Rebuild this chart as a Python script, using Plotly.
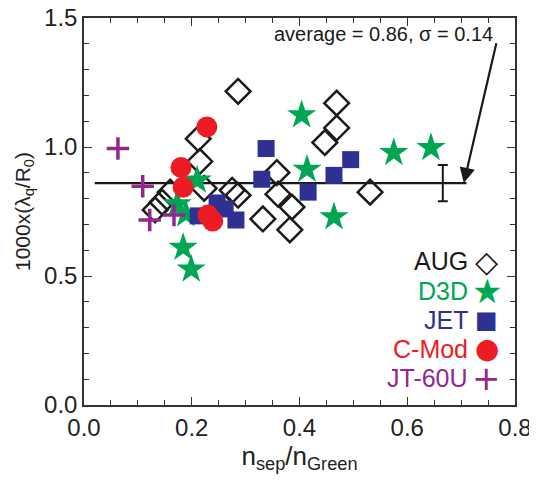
import plotly.graph_objects as go

# ---- data ----
aug_x = [0.286, 0.469, 0.469, 0.447, 0.212, 0.215, 0.223, 0.275, 0.286, 0.358,
         0.360, 0.386, 0.332, 0.382, 0.531, 0.160, 0.145, 0.132]
aug_y = [1.216, 1.170, 1.074, 1.017, 1.032, 0.944, 0.840, 0.832, 0.813, 0.901,
         0.817, 0.767, 0.721, 0.679, 0.825, 0.825, 0.786, 0.756]

d3d_x = [0.404, 0.414, 0.575, 0.644, 0.464, 0.210, 0.173, 0.189, 0.184, 0.199]
d3d_y = [1.124, 0.913, 0.978, 0.997, 0.729, 0.871, 0.779, 0.740, 0.610, 0.526]

jet_x = [0.212, 0.247, 0.262, 0.282, 0.330, 0.338, 0.416, 0.464, 0.495]
jet_y = [0.733, 0.783, 0.760, 0.717, 0.875, 0.994, 0.825, 0.890, 0.951]

cmod_x = [0.228, 0.180, 0.184, 0.230, 0.239]
cmod_y = [1.078, 0.921, 0.844, 0.736, 0.713]

jt_x = [0.063, 0.109, 0.122, 0.167]
jt_y = [0.994, 0.848, 0.717, 0.736]

average = 0.86
sigma = 0.14
avg_line_x = [0.02, 0.71]
errbar_x = 0.666

x_ticks = [0.0, 0.2, 0.4, 0.6, 0.8]
y_ticks = [0.0, 0.5, 1.0, 1.5]

# ---- styles ----
FONT = "Liberation Sans, Arial, Helvetica, sans-serif"
C_AUG = "#1a1a1a"
C_D3D = "#00A651"
C_JET = "#2E3192"
C_CMOD = "#ED1C24"
C_JT = "#92278F"

fig = go.Figure()

# average line
fig.add_trace(go.Scatter(x=avg_line_x, y=[average, average], mode="lines",
                         line=dict(color="#1a1a1a", width=2.2), showlegend=False,
                         hoverinfo="skip"))
# error bar (half sigma)
fig.add_trace(go.Scatter(x=[errbar_x], y=[average], mode="markers",
                         marker=dict(size=1, color="rgba(0,0,0,0)"),
                         error_y=dict(type="constant", value=sigma / 2, color="#1a1a1a",
                                      thickness=2, width=5),
                         showlegend=False, hoverinfo="skip"))

fig.add_trace(go.Scatter(x=aug_x, y=aug_y, mode="markers", name="AUG",
                         marker=dict(symbol="diamond-open", size=19,
                                     color=C_AUG, line=dict(color=C_AUG, width=2.5))))
fig.add_trace(go.Scatter(x=d3d_x, y=d3d_y, mode="markers", name="D3D",
                         marker=dict(symbol="star", size=22, color=C_D3D,
                                     line=dict(width=0))))
fig.add_trace(go.Scatter(x=jet_x, y=jet_y, mode="markers", name="JET",
                         marker=dict(symbol="square", size=17, color=C_JET,
                                     line=dict(width=0))))
fig.add_trace(go.Scatter(x=cmod_x, y=cmod_y, mode="markers", name="C-Mod",
                         marker=dict(symbol="circle", size=21, color=C_CMOD,
                                     line=dict(width=0))))
fig.add_trace(go.Scatter(x=jt_x, y=jt_y, mode="markers", name="JT-60U",
                         marker=dict(symbol="cross-thin", size=16, color=C_JT,
                                     line=dict(color=C_JT, width=3.5))))

# annotation text + arrow
fig.add_annotation(x=0.555, y=1.438, xref="x", yref="y",
                   text=f"average = {average:.2f}, \u03c3 = {sigma:.2f}",
                   showarrow=False, font=dict(family=FONT, size=20, color="#1a1a1a"))
fig.add_annotation(x=0.705, y=average, xref="x", yref="y", ax=0.766, ay=1.408,
                   axref="x", ayref="y", text="", showarrow=True,
                   arrowhead=2, arrowsize=1.4, arrowwidth=2.2, arrowcolor="#1a1a1a")

# legend (text right-aligned, symbol on the right)
legend_items = [("AUG", C_AUG, "\u25c7", 30), ("D3D", C_D3D, "\u2605", 34),
                ("JET", C_JET, "\u25a0", 24), ("C-Mod", C_CMOD, "\u25cf", 28),
                ("JT-60U", C_JT, "+", 34)]
leg_y0 = 0.371
leg_dy = 0.0754
for i, (lab, col, sym, ssize) in enumerate(legend_items):
    yy = leg_y0 - i * leg_dy
    fig.add_annotation(x=0.896, y=yy, xref="paper", yref="paper", text=lab,
                       xanchor="right", yanchor="middle", showarrow=False,
                       font=dict(family=FONT, size=25, color=col))
    fig.add_annotation(x=0.935, y=yy, xref="paper", yref="paper", text=sym,
                       xanchor="center", yanchor="middle", showarrow=False,
                       font=dict(family="DejaVu Sans", size=ssize, color=col))

axis_common = dict(showgrid=False, zeroline=False, showline=True, linecolor="#333333",
                   linewidth=1.5, mirror="allticks", ticks="inside", tickcolor="#333333",
                   tickwidth=1.2, automargin=False, ticklabeloverflow="allow",
                   tickfont=dict(family=FONT, size=24, color="#222222"))

fig.update_xaxes(range=[0, 0.8], tickvals=x_ticks, ticktext=[f"{v:.1f}" for v in x_ticks],
                 ticklen=8,
                 minor=dict(dtick=0.05, ticks="inside", ticklen=5, tickcolor="#333333",
                            showgrid=False),
                 title=dict(text="n<sub>sep</sub>/n<sub>Green</sub>",
                            font=dict(family=FONT, size=26, color="#222222"), standoff=4),
                 **axis_common)
fig.update_yaxes(range=[0, 1.5], tickvals=y_ticks, ticktext=[f"{v:.1f}" for v in y_ticks],
                 ticklen=8,
                 minor=dict(dtick=0.1, ticks="inside", ticklen=5, tickcolor="#333333",
                            showgrid=False),
                 title=dict(text="1000x(\u03bb<sub>q</sub>/R<sub>0</sub>)",
                            font=dict(family=FONT, size=21, color="#222222"), standoff=8),
                 **axis_common)

# page body has an 8px margin: size the figure so the plot area lands where the reference has it
fig.update_layout(width=529, height=472, margin=dict(l=76, r=22, t=10, b=75),
                  plot_bgcolor="white", paper_bgcolor="white", showlegend=False,
                  font=dict(family=FONT))

fig.write_html("out.html")
